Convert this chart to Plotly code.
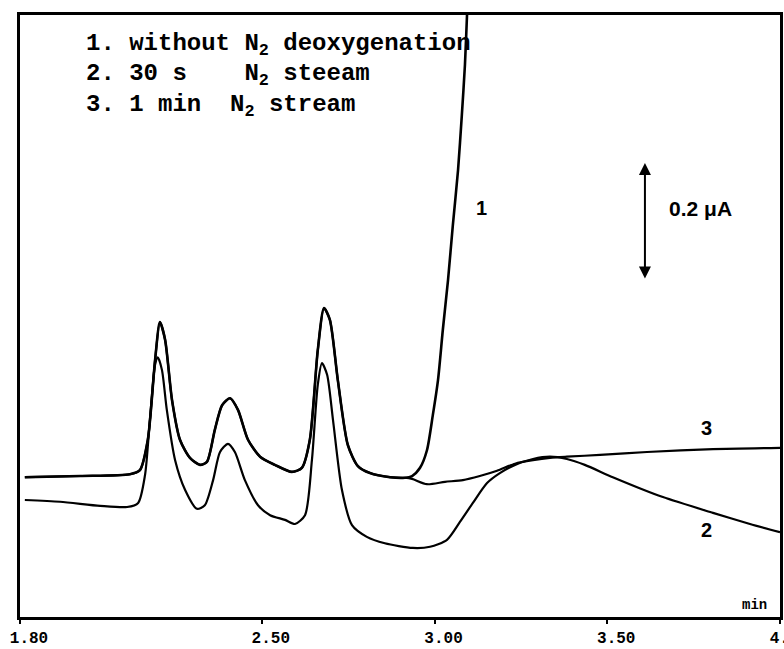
import plotly.graph_objects as go

# shared part of curves 1 and 3 (they overlap until ~2.93 min)
shared_x = [1.814, 1.974, 2.118, 2.147, 2.170, 2.191, 2.205, 2.220, 2.240, 2.263, 2.292, 2.321,
            2.341, 2.364, 2.385, 2.408, 2.431, 2.460, 2.495, 2.538, 2.587, 2.616, 2.639, 2.662,
            2.680, 2.697, 2.720, 2.749, 2.778, 2.813, 2.871, 2.914]
shared_y = [0.239, 0.241, 0.244, 0.251, 0.303, 0.439, 0.504, 0.474, 0.371, 0.303, 0.272, 0.260,
            0.265, 0.320, 0.362, 0.374, 0.354, 0.303, 0.274, 0.260, 0.248, 0.255, 0.303, 0.456,
            0.528, 0.508, 0.405, 0.294, 0.258, 0.246, 0.239, 0.238]

c1_tail_x = [2.935, 2.958, 2.978, 2.995, 3.010, 3.024, 3.039, 3.053, 3.068, 3.079, 3.088, 3.094, 3.098]
c1_tail_y = [0.241, 0.255, 0.285, 0.345, 0.405, 0.491, 0.576, 0.670, 0.764, 0.858, 0.944, 1.029, 1.080]

c3_tail_x = [2.935, 2.978, 3.030, 3.082, 3.131, 3.181, 3.233, 3.285, 3.334, 3.383, 3.479, 3.615, 3.806, 4.000]
c3_tail_y = [0.236, 0.227, 0.231, 0.234, 0.241, 0.250, 0.262, 0.268, 0.272, 0.274, 0.277, 0.282, 0.287, 0.289]

c2_x = [1.814, 1.916, 2.032, 2.110, 2.142, 2.162, 2.176, 2.191, 2.199, 2.211, 2.225, 2.249, 2.278,
        2.312, 2.335, 2.359, 2.379, 2.402, 2.422, 2.451, 2.489, 2.524, 2.567, 2.596, 2.625, 2.645,
        2.662, 2.674, 2.689, 2.706, 2.732, 2.761, 2.804, 2.856, 2.937, 2.987, 3.036, 3.073, 3.111,
        3.152, 3.189, 3.233, 3.285, 3.334, 3.383, 3.435, 3.516, 3.661, 3.806, 3.913, 4.000]
c2_y = [0.200, 0.197, 0.190, 0.188, 0.195, 0.243, 0.337, 0.431, 0.444, 0.422, 0.354, 0.268, 0.217,
        0.185, 0.191, 0.234, 0.282, 0.296, 0.282, 0.234, 0.191, 0.174, 0.166, 0.159, 0.174, 0.268,
        0.397, 0.434, 0.414, 0.337, 0.217, 0.157, 0.137, 0.126, 0.118, 0.120, 0.132, 0.162, 0.195,
        0.229, 0.246, 0.260, 0.270, 0.274, 0.270, 0.260, 0.239, 0.205, 0.178, 0.159, 0.145]

tick_vals = [1.80, 2.50, 3.00, 3.50, 4.00]
tick_text = ["1.80", "2.50", "3.00", "3.50", "4.00"]

legend_lines = ["1. without N<sub>2</sub> deoxygenation",
                "2. 30 s\u00a0\u00a0\u00a0\u00a0N<sub>2</sub> steeam",
                "3. 1 min\u00a0\u00a0N<sub>2</sub> stream"]

c1_x = shared_x + c1_tail_x
c1_y = shared_y + c1_tail_y
c3_x = shared_x + c3_tail_x
c3_y = shared_y + c3_tail_y

fig = go.Figure()
line = dict(color="black", width=2.2, shape="spline", smoothing=0.7)
fig.add_trace(go.Scatter(x=c1_x, y=c1_y, mode="lines",
                         line=dict(color="black", width=2.6, shape="spline", smoothing=0.7), name="1"))
fig.add_trace(go.Scatter(x=c3_x, y=c3_y, mode="lines", line=line, name="3"))
fig.add_trace(go.Scatter(x=c2_x, y=c2_y, mode="lines", line=line, name="2"))

mono = dict(family="Liberation Mono", size=24, color="black", weight="bold")
ann = []
for i, t in enumerate(legend_lines):
    ann.append(dict(x=1.985, y=[0.978, 0.926, 0.874][i], xref="x", yref="y", text=t,
                    showarrow=False, xanchor="left", yanchor="middle", font=mono))
sans = dict(family="Liberation Sans", size=20, color="black", weight="bold")
ann.append(dict(x=3.137, y=0.699, text="1", showarrow=False, font=sans))
ann.append(dict(x=3.788, y=0.323, text="3", showarrow=False, font=sans))
ann.append(dict(x=3.788, y=0.149, text="2", showarrow=False, font=sans))
ann.append(dict(x=3.672, y=0.699, text="0.2 \u03bcA", showarrow=False, xanchor="left",
                font=dict(family="Liberation Sans", size=21, color="black", weight="bold")))
ann.append(dict(x=3.927, y=0.021, text="min", showarrow=False,
                font=dict(family="Liberation Mono", size=14, color="black", weight="bold")))
# scale bar: 0.2 µA double-headed arrow
ann.append(dict(x=3.609, y=0.776, ax=3.609, ay=0.576, xref="x", yref="y", axref="x", ayref="y",
                text="", showarrow=True, arrowhead=2, arrowside="end+start", arrowsize=1.2,
                arrowwidth=2, arrowcolor="black"))

fig.update_layout(
    width=784, height=649, template="none",
    margin=dict(l=20, r=4, t=15, b=32),
    paper_bgcolor="white", plot_bgcolor="white",
    showlegend=False, annotations=ann,
    xaxis=dict(range=[1.80, 4.00], tickvals=tick_vals, ticktext=tick_text,
               showgrid=False, zeroline=False, showline=True, linecolor="black", linewidth=2.5,
               mirror=True, ticks="outside", ticklen=4, tickwidth=2, tickcolor="black",
               automargin=False, ticklabeloverflow="allow", ticklabelshift=9,
               tickfont=dict(family="Liberation Mono", size=16, color="black", weight="bold")),
    yaxis=dict(range=[0, 1.029], showgrid=False, zeroline=False, showline=True, linecolor="black",
               linewidth=2.5, mirror=True, showticklabels=False, ticks="", automargin=False),
)
fig.write_html("out.html")
